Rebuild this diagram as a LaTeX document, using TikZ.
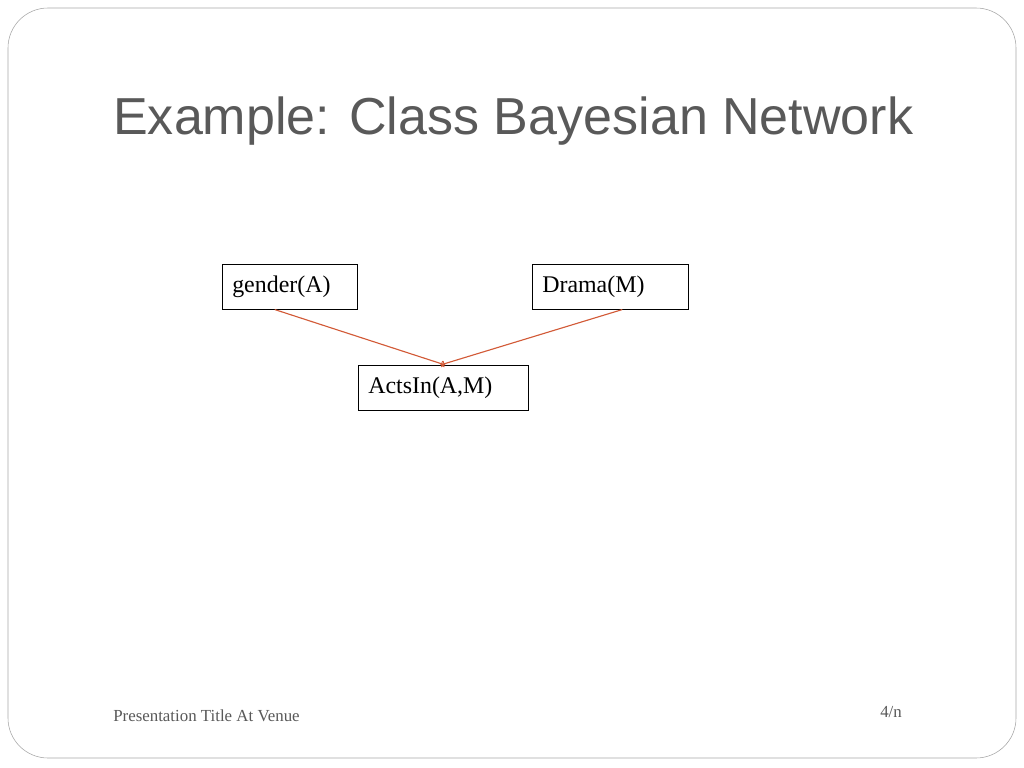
\documentclass[tikz,border=0pt]{standalone}
\usepackage{fontspec}
\setmainfont{Liberation Serif}
\setsansfont{Liberation Sans}
\usetikzlibrary{positioning,arrows}
\definecolor{titlegray}{RGB}{89,89,89}
\definecolor{edgered}{RGB}{210,90,55}
\tikzset{
  varbox/.style={draw, thin, minimum height=45*0.025cm, inner xsep=10*0.025cm, font=\fontsize{17}{20}\selectfont, anchor=north west, align=left},
  dep/.style={->, >=to, draw=edgered, line width=0.8pt, shorten >=0pt}
}
\begin{document}
\begin{tikzpicture}[x=0.025cm,y=-0.025cm]
\useasboundingbox (0,0) rectangle (1024,768);
\draw[gray!70, rounded corners=40*0.025cm] (8,8) rectangle (1016,758);
\node[anchor=base west, inner sep=0pt, text=titlegray, font=\sffamily\fontsize{37}{44}\selectfont] (title) at (113,135) {Example: Class Bayesian Network};

\node[varbox, minimum width=135*0.025cm, text width=115*0.025cm] (gender) at (222,264) {gender(A)};
\node[varbox, minimum width=156*0.025cm, text width=136*0.025cm] (drama) at (532,264) {Drama(M)};
\node[varbox, minimum width=170*0.025cm, text width=150*0.025cm] (acts) at (358,365) {ActsIn(A,M)};

\draw[dep] ([xshift=-15*0.025cm]gender.south) -- ([xshift=2*0.025cm]acts.north);
\draw[dep] ([xshift=12*0.025cm]drama.south) -- ([xshift=-3*0.025cm]acts.north);

\node[anchor=base west, inner sep=0pt, text=titlegray, font=\fontsize{12}{14}\selectfont] (venue) at (113,721) {Presentation Title At Venue};
\node[anchor=base west, inner sep=0pt, text=titlegray, font=\fontsize{12}{14}\selectfont] (page) at (880,717) {4/n};
\end{tikzpicture}
\end{document}
